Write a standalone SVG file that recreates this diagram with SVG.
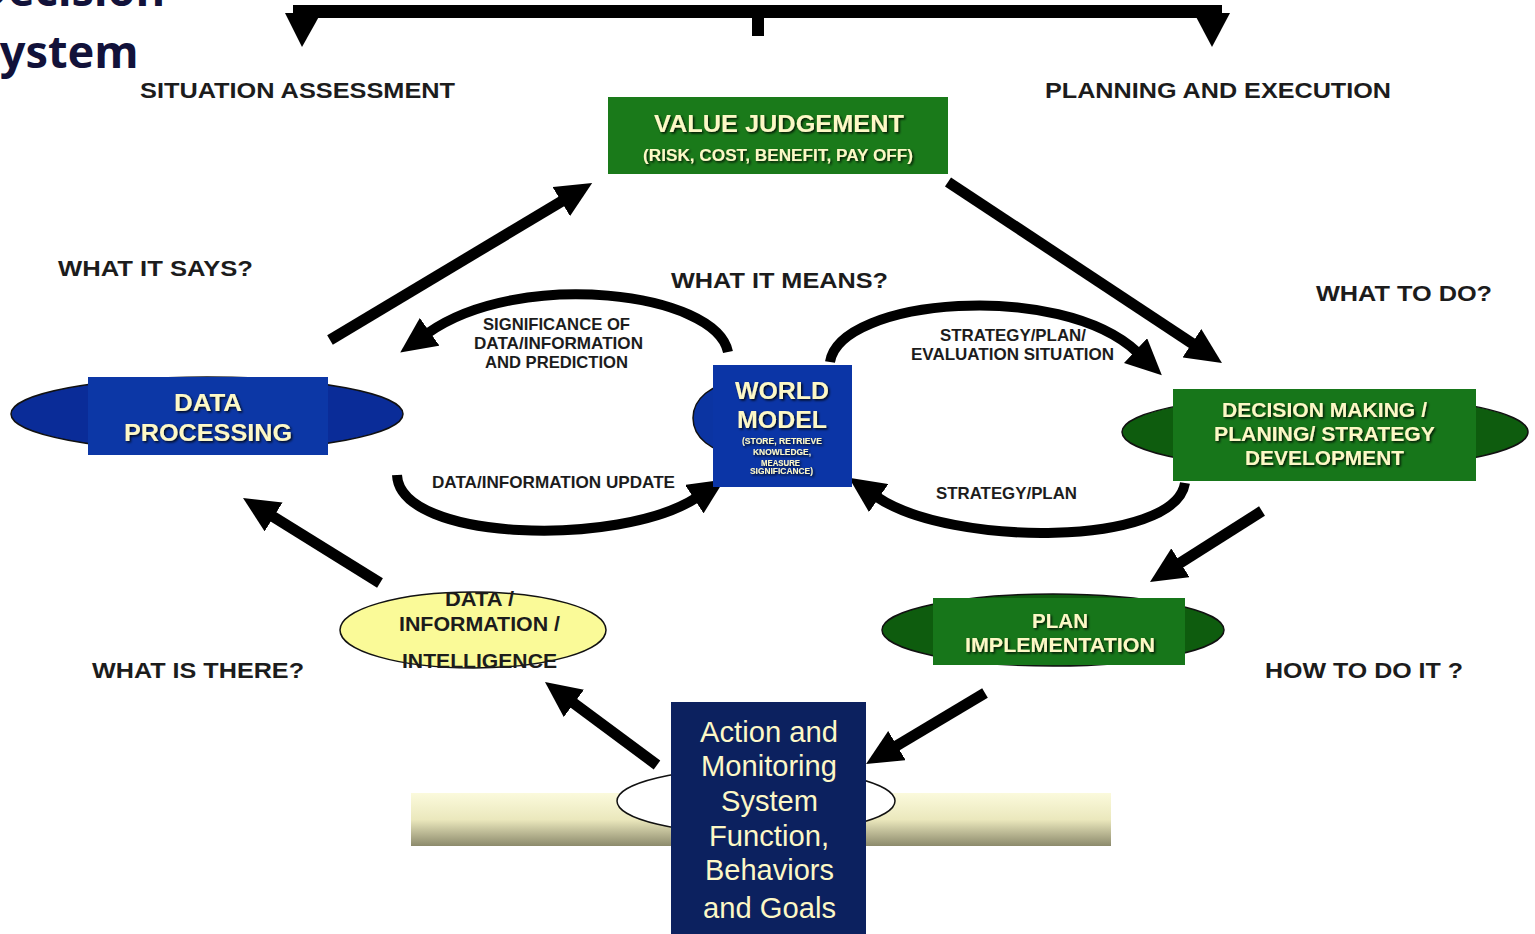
<svg xmlns="http://www.w3.org/2000/svg" width="1535" height="934" viewBox="0 0 1535 934">
  <defs>
    <style>
      .lbl { font-family: "Liberation Sans", Arial, sans-serif; font-weight: bold; fill: #1c1c1c; }
      .cream { font-family: "Liberation Sans", Arial, sans-serif; font-weight: bold; fill: #fdf8c6; filter: url(#shadow); }
      .dark { font-family: "Liberation Sans", Arial, sans-serif; font-weight: bold; fill: #1c1c1c; }
      .act { font-family: "Liberation Sans", Arial, sans-serif; font-weight: normal; fill: #fdf8c6; font-size: 29px; }
      .title { font-family: "Noto Sans", "Open Sans", sans-serif; font-weight: bold; fill: #12123a; font-size: 45px; }
      .arrow { fill: none; stroke: #000; stroke-width: 11; marker-end: url(#head); }
      .curve { fill: none; stroke: #000; stroke-width: 10; marker-end: url(#head); }
      .edge { stroke: #111; stroke-width: 1.5; }
    </style>
    <filter id="shadow" x="-10%" y="-30%" width="130%" height="160%">
      <feDropShadow dx="1.5" dy="1.5" stdDeviation="0.8" flood-color="#000" flood-opacity="0.85"/>
    </filter>
    <marker id="head" markerUnits="userSpaceOnUse" markerWidth="38" markerHeight="34" refX="2" refY="17" orient="auto">
      <path d="M0,0 L36,17 L0,34 z" fill="#000"/>
    </marker>
    <linearGradient id="beam" x1="0" y1="0" x2="0" y2="1">
      <stop offset="0" stop-color="#fbfadc"/>
      <stop offset="0.5" stop-color="#ebe8bd"/>
      <stop offset="1" stop-color="#8c8a6c"/>
    </linearGradient>
  </defs>

  <rect width="1535" height="934" fill="#fff"/>

  <!-- heading -->
  <text class="title" x="-25" y="6">Decision</text>
  <text class="title" x="-25" y="68">System</text>

  <!-- top bracket splitting into two branches -->
  <g id="bracket" fill="#000">
    <rect x="293" y="5" width="929" height="13"/>
    <rect x="752" y="17" width="12" height="19"/>
    <polygon points="285,13 321,13 302,47"/>
    <polygon points="1194,13 1230,13 1212,47"/>
  </g>

  <!-- section headings and questions -->
  <g id="labels" class="lbl" font-size="22">
    <text x="140" y="98" textLength="315" lengthAdjust="spacingAndGlyphs">SITUATION ASSESSMENT</text>
    <text x="1045" y="98" textLength="346" lengthAdjust="spacingAndGlyphs">PLANNING AND EXECUTION</text>
    <text x="58" y="276" textLength="195" lengthAdjust="spacingAndGlyphs">WHAT IT SAYS?</text>
    <text x="671" y="288" textLength="217" lengthAdjust="spacingAndGlyphs">WHAT IT MEANS?</text>
    <text x="1316" y="301" textLength="176" lengthAdjust="spacingAndGlyphs">WHAT TO DO?</text>
    <text x="92" y="678" textLength="212" lengthAdjust="spacingAndGlyphs">WHAT IS THERE?</text>
    <text x="1265" y="678" textLength="198" lengthAdjust="spacingAndGlyphs">HOW TO DO IT ?</text>
  </g>

  <!-- connectors -->
  <g id="connectors">
    <line class="arrow" x1="330" y1="340" x2="563" y2="200.5"/>
    <line class="arrow" x1="948" y1="182" x2="1193.6" y2="344.3"/>
    <line class="arrow" x1="1262" y1="511" x2="1178.7" y2="563.8"/>
    <line class="arrow" x1="985" y1="693" x2="895.2" y2="746.6"/>
    <line class="arrow" x1="657" y1="765" x2="572.3" y2="702.2"/>
    <line class="arrow" x1="380" y1="583" x2="271.9" y2="515.9"/>
    <path class="curve" d="M728,352 C716,292 520,268 428,333"/>
    <path class="curve" d="M397,475 C400,542 620,547 696,498"/>
    <path class="curve" d="M830,362 C840,298 1060,280 1137,352"/>
    <path class="curve" d="M1185,483 C1175,547 950,547 877,497"/>
  </g>

  <!-- connector labels -->
  <g id="connector-labels" class="lbl" font-size="16.5">
    <text x="483" y="330" textLength="147" lengthAdjust="spacingAndGlyphs">SIGNIFICANCE OF</text>
    <text x="474" y="349" textLength="169" lengthAdjust="spacingAndGlyphs">DATA/INFORMATION</text>
    <text x="485" y="368" textLength="143" lengthAdjust="spacingAndGlyphs">AND PREDICTION</text>
    <text x="432" y="488" textLength="243" lengthAdjust="spacingAndGlyphs">DATA/INFORMATION UPDATE</text>
    <text x="940" y="341" textLength="146" lengthAdjust="spacingAndGlyphs">STRATEGY/PLAN/</text>
    <text x="911" y="360" textLength="203" lengthAdjust="spacingAndGlyphs">EVALUATION SITUATION</text>
    <text x="936" y="499" textLength="141" lengthAdjust="spacingAndGlyphs">STRATEGY/PLAN</text>
  </g>

  <!-- value judgement -->
  <g id="value-judgement">
    <rect x="608" y="97" width="340" height="77" fill="#1a7a1a"/>
    <text class="cream" x="654" y="132" font-size="24" textLength="250" lengthAdjust="spacingAndGlyphs">VALUE JUDGEMENT</text>
    <text class="cream" x="643" y="161" font-size="16" textLength="270" lengthAdjust="spacingAndGlyphs">(RISK, COST, BENEFIT, PAY OFF)</text>
  </g>

  <!-- data processing -->
  <g id="data-processing">
    <ellipse cx="207" cy="414" rx="196" ry="37" fill="#0a2c98" class="edge"/>
    <rect x="88" y="377" width="240" height="78" fill="#0c37a6"/>
    <text class="cream" x="174" y="411" font-size="24" textLength="68" lengthAdjust="spacingAndGlyphs">DATA</text>
    <text class="cream" x="124" y="441" font-size="24" textLength="168" lengthAdjust="spacingAndGlyphs">PROCESSING</text>
  </g>

  <!-- world model -->
  <g id="world-model">
    <ellipse cx="736" cy="418" rx="43" ry="35" fill="#0b34a2" class="edge"/>
    <rect x="713" y="365" width="139" height="122" fill="#0b35a6"/>
    <text class="cream" x="735" y="399" font-size="24" textLength="94" lengthAdjust="spacingAndGlyphs">WORLD</text>
    <text class="cream" x="737" y="428" font-size="24" textLength="90" lengthAdjust="spacingAndGlyphs">MODEL</text>
    <text class="cream" x="742" y="444" font-size="8.5" textLength="80" lengthAdjust="spacingAndGlyphs">(STORE, RETRIEVE</text>
    <text class="cream" x="753" y="455" font-size="8.5" textLength="58" lengthAdjust="spacingAndGlyphs">KNOWLEDGE,</text>
    <text class="cream" x="761" y="466" font-size="8.5" textLength="39" lengthAdjust="spacingAndGlyphs">MEASURE</text>
    <text class="cream" x="750" y="474" font-size="8.5" textLength="63" lengthAdjust="spacingAndGlyphs">SIGNIFICANCE)</text>
  </g>

  <!-- decision making -->
  <g id="decision-making">
    <ellipse cx="1325" cy="432" rx="203" ry="38" fill="#0e5c0e" class="edge"/>
    <rect x="1173" y="389" width="303" height="92" fill="#17761a"/>
    <text class="cream" x="1222" y="417" font-size="21" textLength="205" lengthAdjust="spacingAndGlyphs">DECISION MAKING /</text>
    <text class="cream" x="1214" y="441" font-size="21" textLength="221" lengthAdjust="spacingAndGlyphs">PLANING/ STRATEGY</text>
    <text class="cream" x="1245" y="465" font-size="21" textLength="159" lengthAdjust="spacingAndGlyphs">DEVELOPMENT</text>
  </g>

  <!-- plan implementation -->
  <g id="plan-implementation">
    <ellipse cx="1053" cy="630" rx="171" ry="36" fill="#0e5c0e" class="edge"/>
    <rect x="933" y="598" width="252" height="67" fill="#17761a"/>
    <text class="cream" x="1032" y="628" font-size="20" textLength="56" lengthAdjust="spacingAndGlyphs">PLAN</text>
    <text class="cream" x="965" y="652" font-size="20" textLength="190" lengthAdjust="spacingAndGlyphs">IMPLEMENTATION</text>
  </g>

  <!-- data / information / intelligence -->
  <g id="data-information">
    <ellipse cx="473" cy="630" rx="133" ry="38" fill="#fafa98" class="edge"/>
    <text class="dark" x="445" y="606" font-size="20" textLength="69" lengthAdjust="spacingAndGlyphs">DATA /</text>
    <text class="dark" x="399" y="631" font-size="20" textLength="161" lengthAdjust="spacingAndGlyphs">INFORMATION /</text>
    <text class="dark" x="402" y="668" font-size="20" textLength="155" lengthAdjust="spacingAndGlyphs">INTELLIGENCE</text>
  </g>

  <!-- action and monitoring system on its beam -->
  <g id="action-monitoring">
    <rect x="411" y="793" width="700" height="53" fill="url(#beam)"/>
    <ellipse cx="756" cy="801" rx="139" ry="33" fill="#fff" stroke="#111" stroke-width="1.5"/>
    <rect x="671" y="702" width="195" height="232" fill="#0c215f"/>
    <text class="act" x="700" y="742" textLength="138" lengthAdjust="spacingAndGlyphs">Action and</text>
    <text class="act" x="701" y="776" textLength="136" lengthAdjust="spacingAndGlyphs">Monitoring</text>
    <text class="act" x="721" y="811" textLength="97" lengthAdjust="spacingAndGlyphs">System</text>
    <text class="act" x="709" y="846" textLength="120" lengthAdjust="spacingAndGlyphs">Function,</text>
    <text class="act" x="705" y="880" textLength="129" lengthAdjust="spacingAndGlyphs">Behaviors</text>
    <text class="act" x="703" y="918" textLength="133" lengthAdjust="spacingAndGlyphs">and Goals</text>
  </g>
</svg>
